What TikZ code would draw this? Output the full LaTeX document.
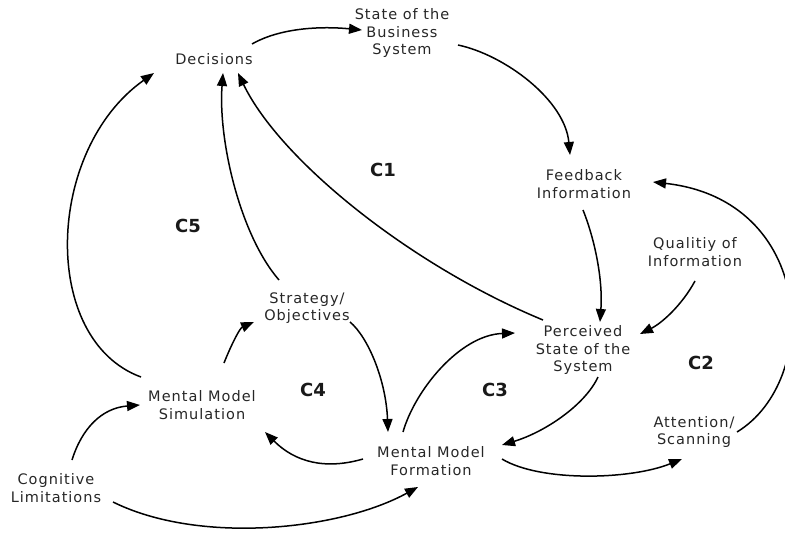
\documentclass[tikz,border=0pt]{standalone}
\usepackage{fontspec}
\setmainfont{DejaVu Sans}
\newfontfamily\lblfont[LetterSpace=7]{DejaVu Sans}
\usetikzlibrary{arrows.meta}
\tikzset{
  lbl/.style={font=\lblfont\fontsize{14.5}{17.5}\selectfont, align=center, text=black!85, inner sep=0pt},
  clbl/.style={font=\bfseries\fontsize{18}{20}\selectfont, inner sep=0pt, text=black!90},
  conn/.style={line width=1.5pt, -{Triangle[length=13pt,width=10pt]}},
}
\begin{document}
\begin{tikzpicture}[x=1pt,y=-1pt]
\useasboundingbox (0,0) rectangle (785,533);
% nodes
\node[lbl] (dec)   at (214,59)  {Decisions};
\node[lbl] (state) at (402,33)  {State of the\\Business\\System};
\node[lbl] (fb)    at (584,184) {Feedback\\Information};
\node[lbl] (qual)  at (695,252) {Qualitiy of\\Information};
\node[lbl] (perc)  at (583,350) {Perceived\\State of the\\System};
\node[lbl] (att)   at (694,432) {Attention/\\Scanning};
\node[lbl] (mmf)   at (431,461) {Mental Model\\Formation};
\node[lbl] (sim)   at (202,405) {Mental Model\\Simulation};
\node[lbl] (cog)   at (56,488)  {Cognitive\\Limitations};
\node[lbl] (strat) at (307,308) {Strategy/\\Objectives};
% loop labels
\node[clbl] (c1) at (383,170) {C1};
\node[clbl] (c2) at (701,363) {C2};
\node[clbl] (c3) at (495,390) {C3};
\node[clbl] (c4) at (313,390) {C4};
\node[clbl] (c5) at (188,226) {C5};
% connectors
\draw[conn] ([shift={(38,-15)}]dec.center) .. controls (280,28) and (320,26) .. ([shift={(-40,-3)}]state.center);
\draw[conn] ([shift={(56,12)}]state.center) .. controls (505,55) and (565,100) .. ([shift={(-14,-29)}]fb.center);
\draw[conn] ([shift={(-1,26)}]fb.center) .. controls (595,240) and (603,280) .. ([shift={(17,-28)}]perc.center);
\draw[conn] ([shift={(0,29)}]qual.center) .. controls (682,305) and (662,323) .. ([shift={(57,-16)}]perc.center);
\draw[conn] ([shift={(43,0)}]att.center) .. controls (822,380) and (815,200) .. ([shift={(69,-2)}]fb.center);
\draw[conn] ([shift={(-40,-30)}]perc.center) .. controls (410,265) and (280,160) .. ([shift={(24,14)}]dec.center);
\draw[conn] ([shift={(-28,-28)}]strat.center) .. controls (240,235) and (218,140) .. ([shift={(9,14)}]dec.center);
\draw[conn] ([shift={(-61,-28)}]sim.center) .. controls (40,340) and (45,150) .. ([shift={(-60,14)}]dec.center);
\draw[conn] ([shift={(22,-42)}]sim.center) .. controls (232,343) and (240,328) .. ([shift={(-53,14)}]strat.center);
\draw[conn] ([shift={(43,14)}]strat.center) .. controls (368,337) and (386,380) .. ([shift={(-43,-29)}]mmf.center);
\draw[conn] ([shift={(-68,-2)}]mmf.center) .. controls (325,470) and (295,462) .. ([shift={(63,27)}]sim.center);
\draw[conn] ([shift={(16,-28)}]cog.center) .. controls (82,428) and (102,408) .. ([shift={(-62,0)}]sim.center);
\draw[conn] ([shift={(57,14)}]cog.center) .. controls (200,545) and (340,530) .. ([shift={(-13,26)}]mmf.center);
\draw[conn] ([shift={(-28,-29)}]mmf.center) .. controls (415,390) and (460,335) .. ([shift={(-68,-17)}]perc.center);
\draw[conn] ([shift={(15,27)}]perc.center) .. controls (585,405) and (545,432) .. ([shift={(71,-16)}]mmf.center);
\draw[conn] ([shift={(71,-2)}]mmf.center) .. controls (540,482) and (630,480) .. ([shift={(-12,27)}]att.center);
\end{tikzpicture}
\end{document}
